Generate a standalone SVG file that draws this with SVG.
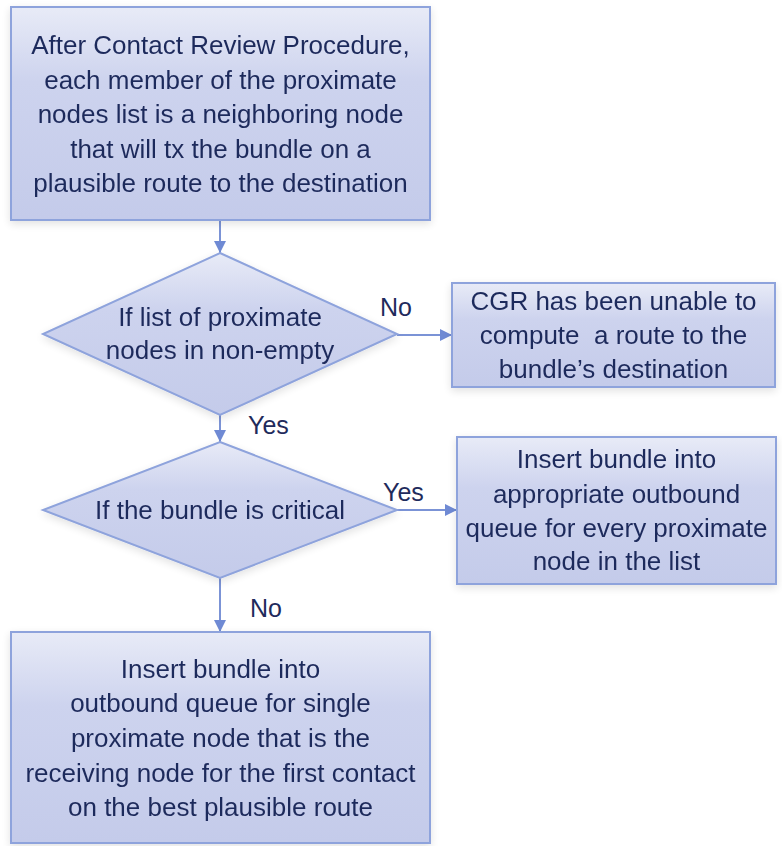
<svg xmlns="http://www.w3.org/2000/svg" width="782" height="846" viewBox="0 0 782 846">
  <style>
    .shape { fill: url(#fillGrad); stroke: #8ea3dc; stroke-width: 2; }
    .txt { font-family: "Liberation Sans", Arial, sans-serif; font-size: 26px; fill: #1f2b5c; text-anchor: middle; }
    .lbl { font-family: "Liberation Sans", Arial, sans-serif; font-size: 25px; fill: #1f2b5c; }
    .pre { white-space: pre; }
    .conn { stroke: #7b93d6; stroke-width: 2; fill: none; marker-end: url(#arrow); }
  </style>
  <defs>
    <linearGradient id="fillGrad" x1="0" y1="0" x2="0" y2="1">
      <stop offset="0" stop-color="#e8ebf7"/>
      <stop offset="0.35" stop-color="#cdd3ee"/>
      <stop offset="1" stop-color="#c4cbea"/>
    </linearGradient>
    <filter id="shadow" x="-10%" y="-10%" width="120%" height="125%">
      <feGaussianBlur in="SourceAlpha" stdDeviation="4"/>
      <feOffset dx="0" dy="3" result="b"/>
      <feComponentTransfer><feFuncA type="linear" slope="0.12"/></feComponentTransfer>
      <feMerge><feMergeNode/><feMergeNode in="SourceGraphic"/></feMerge>
    </filter>
    <marker id="arrow" viewBox="0 0 10 10" refX="10" refY="5" markerWidth="6" markerHeight="6" markerUnits="strokeWidth" orient="auto">
      <path d="M0,0 L10,5 L0,10 z" fill="#6f8ad4"/>
    </marker>
  </defs>
  <rect width="782" height="846" fill="#ffffff"/>

  <g id="connectors">
    <line class="conn" x1="220" y1="220" x2="220" y2="253"/>
    <line class="conn" x1="397" y1="335" x2="452" y2="335"/>
    <line class="conn" x1="220" y1="415" x2="220" y2="442"/>
    <line class="conn" x1="397" y1="510" x2="457" y2="510"/>
    <line class="conn" x1="220" y1="578" x2="220" y2="632"/>
    <text class="lbl" x="380" y="316">No</text>
    <text class="lbl" x="248" y="434">Yes</text>
    <text class="lbl" x="383" y="501">Yes</text>
    <text class="lbl" x="250" y="617">No</text>
  </g>

  <g id="start" filter="url(#shadow)">
    <rect class="shape" x="11" y="7" width="419" height="213"/>
    <text class="txt" x="220.5" y="54">After Contact Review Procedure,</text>
    <text class="txt" x="220.5" y="89">each member of the proximate</text>
    <text class="txt" x="220.5" y="123">nodes list is a neighboring node</text>
    <text class="txt" x="220.5" y="158">that will tx the bundle on a</text>
    <text class="txt" x="220.5" y="192">plausible route to the destination</text>
  </g>

  <g id="check-nonempty" filter="url(#shadow)">
    <polygon class="shape" points="220,253 397,334 220,415 43,334"/>
    <text class="txt" x="220" y="326">If list of proximate</text>
    <text class="txt" x="220" y="359">nodes in non-empty</text>
  </g>

  <g id="no-route" filter="url(#shadow)">
    <rect class="shape" x="452" y="283" width="323" height="104"/>
    <text class="txt" x="613.5" y="310">CGR has been unable to</text>
    <text class="txt pre" x="613.5" y="344">compute  a route to the</text>
    <text class="txt" x="613.5" y="378">bundle’s destination</text>
  </g>

  <g id="check-critical" filter="url(#shadow)">
    <polygon class="shape" points="220,442 397,510 220,578 43,510"/>
    <text class="txt" x="220" y="519">If the bundle is critical</text>
  </g>

  <g id="insert-all" filter="url(#shadow)">
    <rect class="shape" x="457" y="437" width="319" height="147"/>
    <text class="txt" x="616.5" y="468">Insert bundle into</text>
    <text class="txt" x="616.5" y="503">appropriate outbound</text>
    <text class="txt" x="616.5" y="537">queue for every proximate</text>
    <text class="txt" x="616.5" y="570">node in the list</text>
  </g>

  <g id="insert-single" filter="url(#shadow)">
    <rect class="shape" x="11" y="632" width="419" height="211"/>
    <text class="txt" x="220.5" y="678">Insert bundle into</text>
    <text class="txt" x="220.5" y="712">outbound queue for single</text>
    <text class="txt" x="220.5" y="747">proximate node that is the</text>
    <text class="txt" x="220.5" y="782">receiving node for the first contact</text>
    <text class="txt" x="220.5" y="816">on the best plausible route</text>
  </g>
</svg>
